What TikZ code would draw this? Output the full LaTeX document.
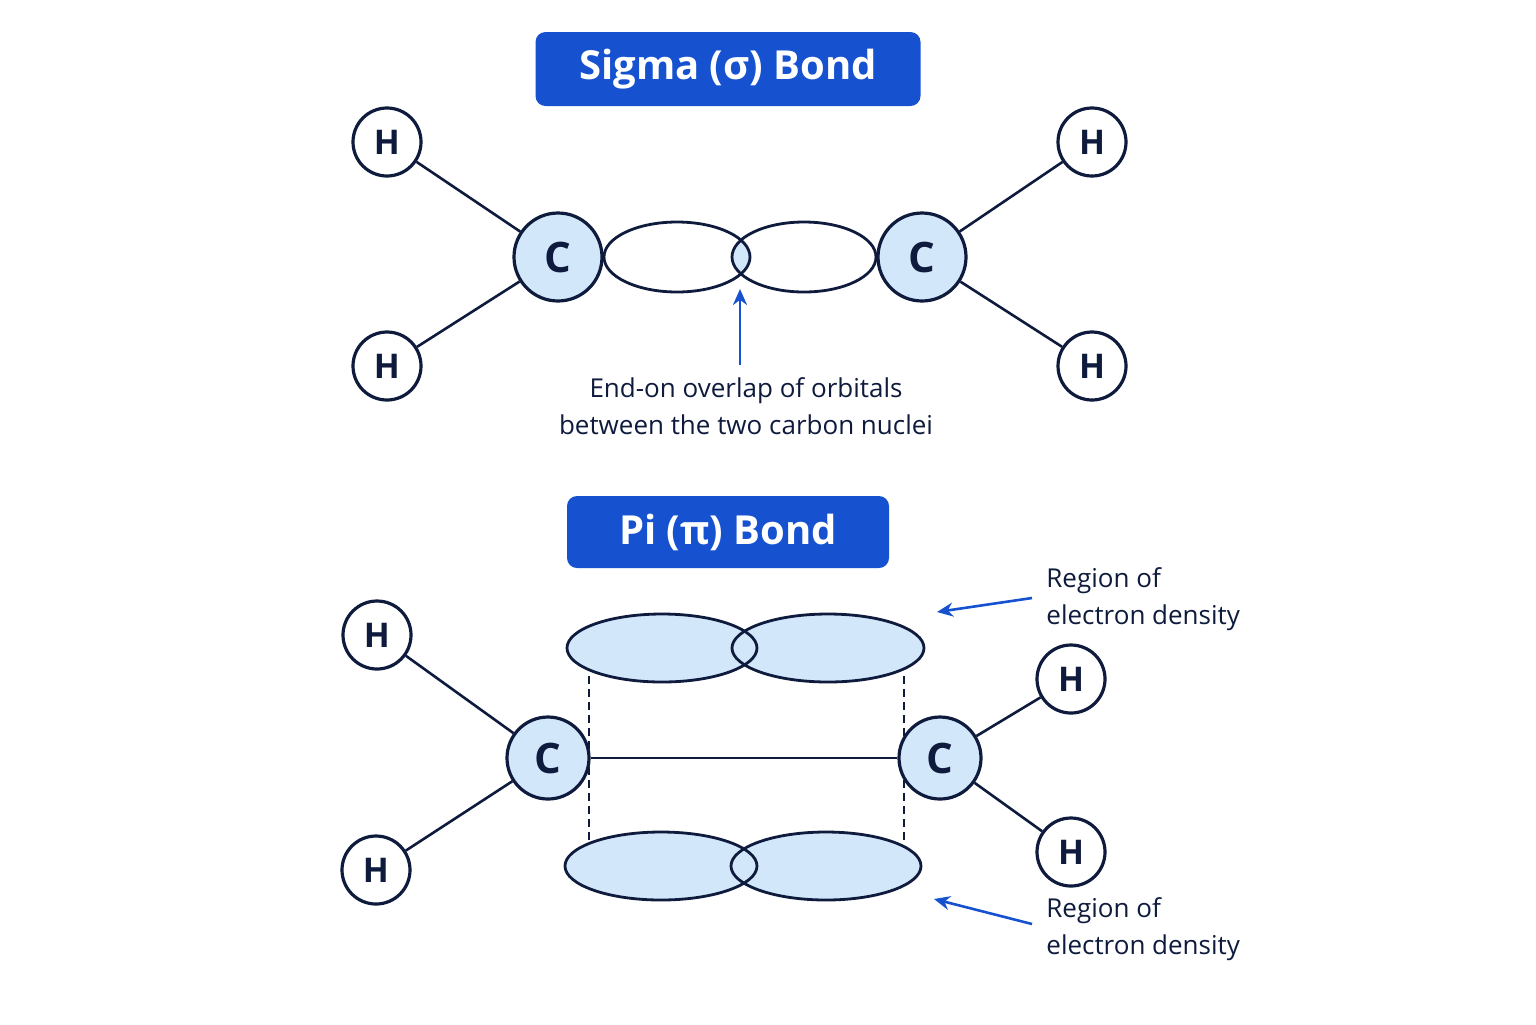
\documentclass[tikz,border=0pt]{standalone}
\usepackage{fontspec}
\setmainfont{Open Sans}
\usetikzlibrary{arrows.meta}
\definecolor{navy}{HTML}{0F1B3D}
\definecolor{bblue}{HTML}{1652D0}
\definecolor{lblue}{HTML}{D3E7FB}
\begin{document}
\begin{tikzpicture}[x=0.5pt,y=-0.5pt,
  atomH/.style={circle,draw=navy,line width=1.6pt,fill=white,minimum size=34pt,inner sep=0pt,font=\bfseries\fontsize{17}{17}\selectfont,text=navy},
  atomC/.style={circle,draw=navy,line width=1.6pt,fill=lblue,minimum size=44pt,inner sep=0pt,font=\bfseries\fontsize{21}{21}\selectfont,text=navy},
  title/.style={rectangle,rounded corners=5pt,fill=bblue,text=white,font=\bfseries\fontsize{20}{20}\selectfont,inner sep=0pt},
  bond/.style={draw=navy,line width=1.3pt},
  orb/.style={draw=navy,line width=1.4pt},
  lbl/.style={font=\fontsize{13}{18.5}\selectfont,text=navy,align=center,inner sep=0pt},
  arr/.style={draw=bblue,line width=1.3pt,-{Stealth[length=8pt,width=7pt]}}]
\useasboundingbox[fill=white] (0,0) rectangle (1536,1024);
% Sigma
\node[title,minimum width=192.5pt,minimum height=37pt] (t1) at (728,69) {Sigma (σ) Bond};
\coordinate (lo1) at (677,257);
\coordinate (ro1) at (804,257);
\begin{scope}
 \clip (lo1) ellipse [x radius=73,y radius=35];
 \fill[lblue] (ro1) ellipse [x radius=72,y radius=35];
\end{scope}
\draw[orb] (lo1) ellipse [x radius=73,y radius=35];
\draw[orb] (ro1) ellipse [x radius=72,y radius=35];
\node[atomC] (c1) at (558,257) {C};
\node[atomC] (c2) at (922,257) {C};
\node[atomH] (h1) at (387,142) {H};
\node[atomH] (h2) at (387,366) {H};
\node[atomH] (h3) at (1092,142) {H};
\node[atomH] (h4) at (1092,366) {H};
\draw[bond] (c1)--(h1); \draw[bond] (c1)--(h2);
\draw[bond] (c2)--(h3); \draw[bond] (c2)--(h4);
\coordinate (a1s) at (740,365); \coordinate (a1e) at (740,289);
\draw[arr] (a1s)--(a1e);
\node[lbl] (l1) at (746,406) {End-on overlap of orbitals\\between the two carbon nuclei};
% Pi
\node[title,minimum width=161pt,minimum height=36pt] (t2) at (728,532) {Pi (π) Bond};
\coordinate (tl) at (662,648); \coordinate (tr) at (828,648);
\coordinate (bl) at (661,866); \coordinate (br) at (826,866);
\fill[lblue] (tl) ellipse [x radius=95,y radius=34];
\fill[lblue] (tr) ellipse [x radius=96,y radius=34];
\fill[lblue] (bl) ellipse [x radius=96,y radius=34];
\fill[lblue] (br) ellipse [x radius=95,y radius=34];
\draw[orb] (tl) ellipse [x radius=95,y radius=34];
\draw[orb] (tr) ellipse [x radius=96,y radius=34];
\draw[orb] (bl) ellipse [x radius=96,y radius=34];
\draw[orb] (br) ellipse [x radius=95,y radius=34];
\coordinate (d1a) at (589,676); \coordinate (d1b) at (589,840);
\coordinate (d2a) at (904,676); \coordinate (d2b) at (904,840);
\draw[navy,line width=1.1pt,dash pattern=on 4pt off 2.5pt] (d1a)--(d1b);
\draw[navy,line width=1.1pt,dash pattern=on 4pt off 2.5pt] (d2a)--(d2b);
\node[atomC,minimum size=41pt] (c3) at (548,758) {C};
\node[atomC,minimum size=41pt] (c4) at (940,758) {C};
\draw[bond] (c3)--(c4);
\node[atomH] (h5) at (377,635) {H};
\node[atomH] (h6) at (376,870) {H};
\node[atomH] (h7) at (1071,679) {H};
\node[atomH] (h8) at (1071,852) {H};
\draw[bond] (c3)--(h5); \draw[bond] (c3)--(h6);
\draw[bond] (c4)--(h7); \draw[bond] (c4)--(h8);
\coordinate (a2s) at (1032,598); \coordinate (a2e) at (937,612);
\draw[arr] (a2s)--(a2e);
\coordinate (a3s) at (1032,924); \coordinate (a3e) at (934,899);
\draw[arr] (a3s)--(a3e);
\node[lbl,align=left,anchor=west] (l2) at (1046,599) {Region of\\electron density};
\node[lbl,align=left,anchor=west] (l3) at (1046,929) {Region of\\electron density};
\end{tikzpicture}
\end{document}
